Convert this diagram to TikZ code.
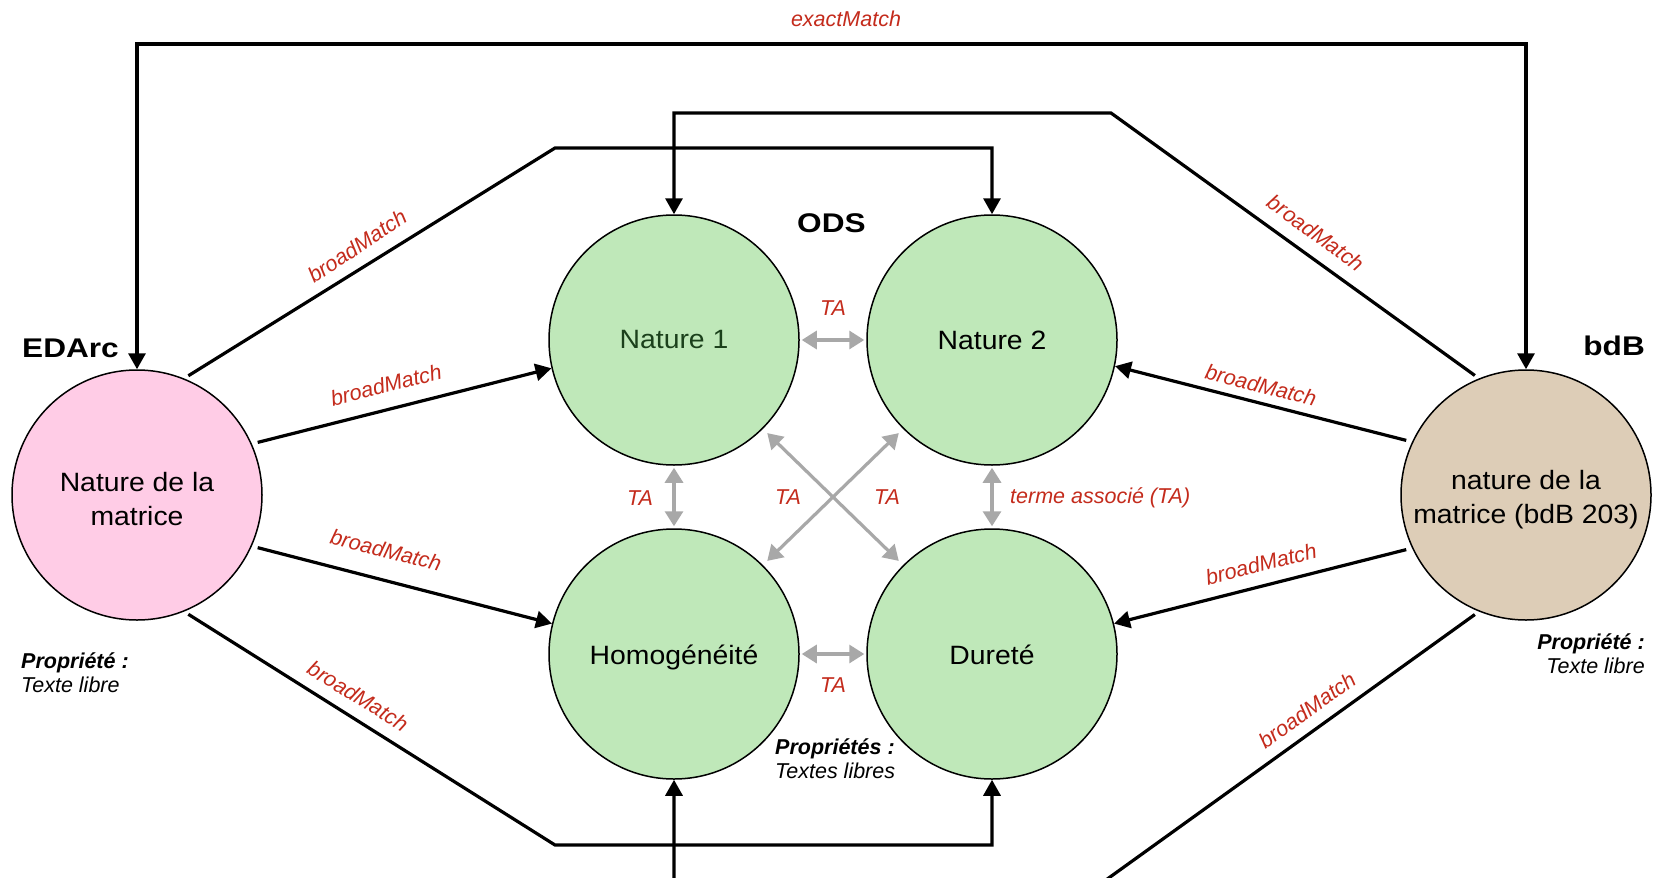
\documentclass[tikz,border=0pt]{standalone}
\usepackage{fontspec}
\setmainfont{Liberation Sans}
\newfontfamily\circfont{Liberation Sans}[FakeStretch=1.07]
\newfontfamily\titlefont{Liberation Sans}[FakeStretch=1.17]
\usetikzlibrary{arrows.meta}
\definecolor{lblred}{HTML}{C42B1C}
\definecolor{ballgreen}{HTML}{BFE8B9}
\definecolor{ballpink}{HTML}{FFCCE6}
\definecolor{balltan}{HTML}{DDCDB7}
\definecolor{tagray}{HTML}{A8A8A8}
\definecolor{darkgreen}{HTML}{1B401B}
\tikzset{
  ball/.style={circle, draw=black, line width=1.5pt, minimum size=250pt, inner sep=0pt},
  circtext/.style={align=center, inner sep=0pt, font=\circfont\fontsize{26.5}{34}\selectfont},
  conn/.style={draw=black, line width=3.2pt, line join=miter, -{Triangle[length=16pt,width=17pt]}},
  conntwo/.style={draw=black, line width=3.2pt, line join=miter, {Triangle[length=16pt,width=17pt]}-{Triangle[length=16pt,width=17pt]}},
  ta/.style={draw=tagray, line width=3.2pt, {Triangle[length=15pt,width=18pt]}-{Triangle[length=15pt,width=18pt]}, shorten <=2pt, shorten >=2pt},
  lbl/.style={text=lblred, font=\itshape\fontsize{21.5}{26}\selectfont, inner sep=1pt},
  titlelbl/.style={font=\titlefont\bfseries\fontsize{27}{32}\selectfont, inner sep=0pt},
  prop/.style={font=\itshape\fontsize{21.5}{24}\selectfont, inner sep=0pt}
}
\begin{document}
\begin{tikzpicture}[x=1pt,y=-1pt]
\useasboundingbox (0,0) rectangle (1657,878);
\fill[white] (0,0) rectangle (1657,878);
\clip (0,0) rectangle (1657,878);

% circles
\node[ball, fill=ballpink] (ed) at (137,495) {};
\node[ball, fill=ballgreen] (n1) at (674,340) {};
\node[ball, fill=ballgreen] (n2) at (992,340) {};
\node[ball, fill=ballgreen] (ho) at (674,654) {};
\node[ball, fill=ballgreen] (du) at (992,654) {};
\node[ball, fill=balltan] (bdb) at (1526,495) {};

% circle texts
\node[circtext] (edt) at ([yshift=-4pt]ed.center) {Nature de la\\matrice};
\node[circtext, text=darkgreen] (n1t) at (n1.center) {Nature 1};
\node[circtext] (n2t) at (n2.center) {Nature 2};
\node[circtext] (hot) at ([yshift=-3pt]ho.center) {Homogénéité};
\node[circtext] (dut) at ([yshift=-1pt]du.center) {Dureté};
\node[circtext] (bdbt) at ([yshift=-5pt]bdb.center) {nature de la\\matrice (bdB 203)};

% titles
\node[titlelbl, anchor=base west] (edarc) at (22,357) {EDArc};
\node[titlelbl, anchor=base west] (ods) at (797,232) {ODS};
\node[titlelbl, anchor=base east] (bdbl) at (1645,355) {bdB};

% properties
\node[prop, anchor=west, align=left] (pl) at (21,673) {\textbf{Propriété :}\\Texte libre};
\node[prop, anchor=east, align=right] (pr) at (1645,654) {\textbf{Propriété :}\\Texte libre};
\node[prop, anchor=west, align=left] (pc) at (775,759) {\textbf{Propriétés :}\\Textes libres};

% black connectors
\draw[conntwo] (ed.north) -- (ed.north |- 0,44) -- (bdb.north |- 0,44) -- (bdb.north);
\draw[conn, shorten <=5pt] (ed.68) -- (555,148) -- (n2.north |- 0,148) -- (n2.north);
\draw[conn, shorten <=5pt] (bdb.112) -- (1111,113) -- (n1.north |- 0,113) -- (n1.north);
\draw[conn, shorten <=6pt] (ed.24) -- (n1.193);
\draw[conn, shorten <=6pt] (ed.-24) -- (ho.166);
\draw[conn, shorten <=5pt] (ed.-68) -- (555,845) -- (du.south |- 0,845) -- (du.south);
\draw[conn, shorten <=6pt] (bdb.155) -- (n2.-12);
\draw[conn, shorten <=6pt] (bdb.205) -- (du.14);
\draw[conn, shorten <=5pt] (bdb.-112) -- (1092,890) -- (ho.south |- 0,890) -- (ho.south);

% gray TA connectors
\draw[ta] (n1.east) -- (n2.west);
\draw[ta] (ho.east) -- (du.west);
\draw[ta] (n1.south) -- (ho.north);
\draw[ta] (n2.south) -- (du.north);
\draw[ta, shorten <=6pt, shorten >=6pt] (n1.-45) -- (du.135);
\draw[ta, shorten <=6pt, shorten >=6pt] (ho.45) -- (n2.-135);

% labels
\node[lbl, anchor=base] (lem) at (846,26.5) {exactMatch};
\node[lbl] (ta1) at (833,308) {TA};
\node[lbl] (ta2) at (640,498) {TA};
\node[lbl] (ta3) at (788,497) {TA};
\node[lbl] (ta4) at (887,497) {TA};
\node[lbl, anchor=west] (ta5) at (1009,498) {terme associé (TA)};
\node[lbl] (ta6) at (833,685) {TA};

\node[lbl, rotate=33.7] (bm1) at (357,246) {broadMatch};
\node[lbl, rotate=14] (bm2) at (386,385) {broadMatch};
\node[lbl, rotate=-14] (bm3) at (386,550) {broadMatch};
\node[lbl, rotate=-31.6] (bm4) at (358,696) {broadMatch};
\node[lbl, rotate=-36] (bm5) at (1316,233) {broadMatch};
\node[lbl, rotate=-14] (bm6) at (1261,385) {broadMatch};
\node[lbl, rotate=14] (bm7) at (1261,564) {broadMatch};
\node[lbl, rotate=35.5] (bm8) at (1307,710) {broadMatch};
\end{tikzpicture}
\end{document}
